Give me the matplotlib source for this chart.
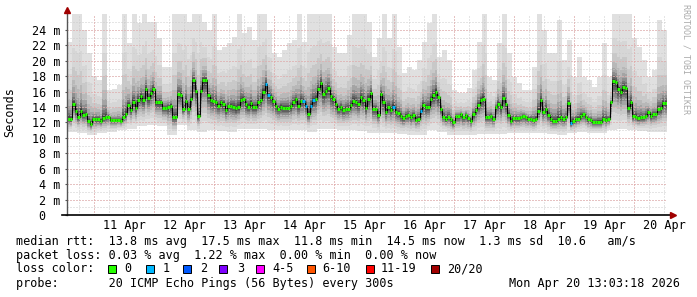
import numpy as np
import matplotlib
matplotlib.use("Agg")
import matplotlib.pyplot as plt
from matplotlib.patches import Rectangle

# median rtt in ms, one value per hour, Apr 10 13:03 -> Apr 20 13:03
median_ms = [
    12.5, 12.4, 14.4, 13.5, 12.75, 13.5, 13.0, 13.1, 12.2, 11.8,
    12.45, 12.45, 12.45, 12.25, 12.6, 12.65, 12.75, 12.3, 12.3, 12.3,
    12.3, 12.25, 12.65, 13.05, 14.3, 13.6, 14.7, 13.9, 14.9, 15.4,
    14.9, 16.3, 15.2, 15.8, 16.4, 14.6, 14.6, 14.6, 13.9, 13.9,
    14.05, 14.2, 12.67, 12.67, 15.7, 15.6, 13.8, 14.8, 13.8, 15.0,
    17.5, 16.1, 12.84, 16.1, 17.5, 17.5, 15.5, 14.9, 14.75, 14.6,
    14.2, 14.66, 14.4, 13.6, 14.1, 14.2, 14.05, 13.84, 14.0, 14.9,
    15.05, 14.35, 14.05, 14.5, 14.0, 14.0, 14.6, 14.9, 16.0, 17.0,
    15.6, 15.3, 14.8, 14.2, 13.8, 14.05, 13.9, 13.9, 13.9, 14.1,
    14.7, 15.0, 14.2, 14.8, 14.8, 14.2, 13.06, 14.2, 14.9, 15.05,
    16.3, 17.1, 15.7, 16.1, 16.5, 15.4, 15.1, 14.4, 13.75, 14.0,
    13.6, 13.8, 13.8, 14.3, 14.8, 14.7, 14.35, 15.3, 14.9, 13.9,
    15.1, 15.8, 13.8, 13.8, 13.0, 15.7, 14.66, 13.36, 14.05, 13.66,
    14.05, 13.36, 13.2, 12.84, 12.54, 12.9, 12.97, 12.67, 12.97, 12.37,
    12.5, 13.5, 14.3, 14.05, 14.0, 15.0, 15.5, 16.0, 15.3, 13.8,
    12.75, 12.4, 12.75, 12.4, 12.0, 12.84, 12.84, 13.06, 12.67, 12.97,
    12.6, 12.2, 13.06, 13.6, 14.3, 14.9, 15.1, 12.75, 12.75, 12.84,
    12.5, 14.0, 14.4, 14.0, 15.2, 14.35, 13.0, 12.2, 12.54, 12.54,
    12.54, 12.7, 12.84, 12.67, 12.5, 12.5, 12.3, 12.5, 13.5, 14.9,
    13.4, 13.75, 12.97, 12.4, 12.25, 12.25, 12.5, 12.67, 12.4, 12.67,
    14.5, 11.9, 12.25, 12.4, 12.5, 12.84, 13.06, 12.75, 12.4, 12.3,
    12.1, 12.1, 12.1, 12.1, 12.5, 12.3, 12.4, 14.6, 17.4, 17.3,
    16.4, 16.0, 16.6, 16.5, 13.9, 14.66, 12.84, 12.75, 12.54, 12.67,
    12.67, 12.9, 13.36, 12.84, 13.06, 13.1, 13.75, 13.84, 14.5, 14.5,
]
# hours where 1 of 20 pings was lost
loss_one_hours = [79, 80, 94, 95, 97, 98, 130, 141, 201]

# slowest ping per 2 h column (27 = above the top of the graph)
smoke_top = [
    22.5, 27, 27, 24, 21, 18, 17.5, 27, 16.2, 16.4,
    16.8, 27, 22.3, 27, 24.9, 27, 25, 25, 23, 19.2,
    19.2, 27, 27, 27, 25, 27, 27, 25, 24, 27,
    21.4, 21.8, 22.3, 23.1, 27, 23.6, 24.4, 22.7, 27, 27,
    24, 21, 20.5, 21.4, 22.3, 22.7, 27, 22.5, 27, 27,
    27, 27, 27, 21.8, 21, 21, 23.3, 27, 27, 27,
    25, 20.5, 23, 27, 23, 27, 21.8, 18.4, 19.2, 18.8,
    20.1, 22.5, 24.9, 27, 20.5, 21.4, 20.1, 16.2, 15.8, 15.8,
    16.5, 18.8, 22.5, 27, 17.9, 17.5, 22.3, 27, 21, 17.9,
    17.1, 16.2, 16.2, 19.2, 27, 24, 21, 21, 25.3, 20.1,
    22.7, 17.9, 20.5, 17.9, 17.5, 16.6, 17.9, 22.3, 17.9, 27,
    27, 27, 27, 23, 21.8, 20.1, 17.9, 18.8, 25.3, 24,
]
# fastest ping per 4 h column
smoke_bottom = [
    10.8, 10.6, 10.4, 10.6, 10.8, 11.0, 11.2, 11.5, 11.7, 11.5,
    10.4, 11.7, 11.0, 10.8, 11.0, 10.9, 10.8, 11.1, 11.2, 11.2,
    11.0, 11.0, 11.0, 11.0, 10.8, 11.2, 11.1, 11.0, 11.0, 10.9,
    10.6, 10.6, 10.6, 10.5, 10.4, 10.4, 11.0, 10.8, 10.4, 10.4,
    10.4, 10.5, 10.5, 10.5, 10.6, 10.6, 10.6, 10.6, 10.5, 10.4,
    10.6, 10.8, 10.6, 10.6, 11.0, 11.2, 11.0, 10.9, 10.8, 10.8,
]

day_labels = ["11 Apr", "12 Apr", "13 Apr", "14 Apr", "15 Apr",
              "16 Apr", "17 Apr", "18 Apr", "19 Apr", "20 Apr"]
y_ticks = [0, 2, 4, 6, 8, 10, 12, 14, 16, 18, 20, 22, 24]
y_labels = ["0  ", "2 m", "4 m", "6 m", "8 m", "10 m", "12 m",
            "14 m", "16 m", "18 m", "20 m", "22 m", "24 m"]

stats_lines = [
    "median rtt:  13.8 ms avg  17.5 ms max  11.8 ms min  14.5 ms now  1.3 ms sd  10.6   am/s",
    "packet loss: 0.03 % avg  1.22 % max  0.00 % min  0.00 % now",
    "loss color:",
    "probe:       20 ICMP Echo Pings (56 Bytes) every 300s",
]
stamp = "Mon Apr 20 13:03:18 2026"
loss_names = ["0", "1", "2", "3", "4-5", "6-10", "11-19", "20/20"]
loss_colors = ["#26ff00", "#00b8ff", "#0059ff", "#7e00ff",
               "#ff00ff", "#ff5500", "#ff0000", "#a10000"]

MONO = "DejaVu Sans Mono"
W, H = 697, 297
START_HOUR = 13.05   # graph starts at 13:03
SPAN = 240
YTOP = 26.07


def main():
    fig = plt.figure(figsize=(W / 100, H / 100), dpi=100)
    fig.patch.set_facecolor("white")
    ax = fig.add_axes([67 / W, 82 / H, 600 / W, 201 / H])
    ax.set_xlim(0, SPAN)
    ax.set_ylim(0, YTOP)

    med = np.array(median_ms)
    top = np.repeat(smoke_top, 2)
    bot = np.repeat(smoke_bottom, 4)
    edges = np.arange(len(med) + 1)

    # smoke: lighter outside, darker towards the median
    shades = ["#e0e0e0", "#d6d6d6", "#c8c8c8", "#b8b8b8", "#a4a4a4",
              "#8e8e8e", "#767676", "#606060", "#4a4a4a", "#383838"]
    f_up = [1.0, 0.58, 0.38, 0.25, 0.17, 0.115, 0.075, 0.048, 0.028, 0.014]
    f_dn = [1.0, 0.8, 0.64, 0.52, 0.42, 0.33, 0.25, 0.18, 0.11, 0.055]
    for shade, fu, fd in zip(shades, f_up, f_dn):
        up = med + (top - med) * fu
        dn = med - (med - bot) * fd
        ax.fill_between(edges, np.append(dn, dn[-1]), np.append(up, up[-1]),
                        step="post", color=shade, linewidth=0, zorder=1)

    # grid, drawn over the smoke like rrdtool does
    first_midnight = 24 - START_HOUR
    minor_x = np.arange(first_midnight % 6, SPAN, 6)
    major_x = np.arange(first_midnight, SPAN, 24)
    dots = (0, (1, 2))
    ax.vlines(minor_x, 0, YTOP, colors="#cccccc", linestyles=dots, linewidth=0.72, zorder=2)
    ax.hlines(np.arange(1, 26, 1), 0, SPAN, colors="#cccccc", linestyles=dots, linewidth=0.72, zorder=2)
    ax.vlines(major_x, 0, YTOP, colors="#e8a0a0", linestyles=dots, linewidth=0.72, zorder=2)
    ax.hlines(y_ticks[1:], 0, SPAN, colors="#e8a0a0", linestyles=dots, linewidth=0.72, zorder=2)

    # median line, coloured by packet loss
    ax.step(edges, np.append(med, med[-1]), where="post", color="black", linewidth=0.7, zorder=3)
    seg_colors = [loss_colors[1] if h in loss_one_hours else loss_colors[0] for h in range(len(med))]
    lc = ax.hlines(med, edges[:-1], edges[1:], colors=seg_colors, linewidth=2.2, zorder=4)
    lc.set_capstyle("butt")

    # axes with arrows
    for s in ax.spines.values():
        s.set_visible(False)
    ax.plot([0, 0], [0, YTOP + 0.5], color="#555555", linewidth=1, clip_on=False, zorder=5)
    ax.plot([-2, SPAN + 1.5], [0, 0], color="black", linewidth=1.2, clip_on=False, zorder=5)
    ax.plot([0], [YTOP + 0.55], marker="^", markersize=5, color="#a00000", clip_on=False, zorder=6)
    ax.plot([SPAN + 2.2], [0], marker=">", markersize=5, color="#a00000", clip_on=False, zorder=6)

    ax.set_yticks(y_ticks)
    ax.set_yticklabels(y_labels, fontsize=8.5, family=MONO)
    ax.set_xticks(np.arange(first_midnight + 12, SPAN, 24))
    ax.set_xticklabels(day_labels, fontsize=8.5, family=MONO)
    ax.tick_params(axis="y", length=1.5, width=0.8, pad=3.5, color="#555555")
    ax.tick_params(axis="x", length=0, pad=3)

    fig.text(10 / W, 1 - 112.5 / H, "Seconds", rotation=90, ha="center", va="center",
             fontsize=8.5, family=MONO)
    fig.text(686 / W, 1 - 4 / H, "RRDTOOL / TOBI OETIKER", rotation=270, ha="center",
             va="top", fontsize=6.0, family=MONO, color="#aaaaaa")

    # legend block under the graph
    for yc, line in zip([241, 255, 269, 283], stats_lines):
        fig.text(16 / W, 1 - yc / H, line, ha="left", va="center", fontsize=8.5, family=MONO)
    fig.text(680 / W, 1 - 283 / H, stamp, ha="right", va="center", fontsize=8.5, family=MONO)

    box_x = [108, 146, 183, 219, 256, 307, 366, 431]
    text_x = [124, 163, 200, 237, 272, 322, 381, 447]
    for bx, tx, name, col in zip(box_x, text_x, loss_names, loss_colors):
        fig.patches.append(Rectangle((bx / W, 1 - 273 / H), 8 / W, 8 / H, transform=fig.transFigure,
                                     facecolor=col, edgecolor="black", linewidth=0.7))
        fig.text(tx / W, 1 - 269 / H, name, ha="left", va="center", fontsize=8.5, family=MONO)

    fig.savefig("out.png", dpi=100, facecolor="white")


if __name__ == "__main__":
    main()
